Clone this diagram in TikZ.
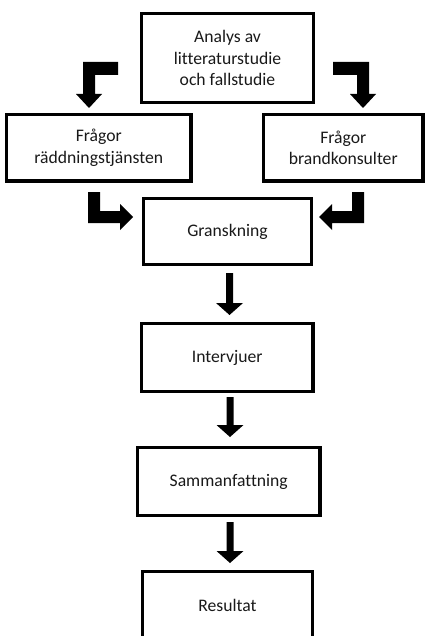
\documentclass[tikz,border=0pt]{standalone}
\usepackage{fontspec}
\setmainfont[Ligatures=CommonOff,Contextuals=AlternateOff]{Carlito}
\begin{document}
\begin{tikzpicture}[x=1bp,y=-1bp,
  box/.style={draw=black, line width=3.2bp, rectangle, inner sep=0pt, align=center,
    font=\fontsize{17.7}{21.5}\selectfont, text=black!90},
  blockarrow/.style={fill=black}]
\useasboundingbox (0,0) rectangle (425,636);
\node[box, minimum width=172bp, minimum height=89bp] (a) at (227.5,58) {Analys av\\litteraturstudie\\och fallstudie};
\node[box, minimum width=184.5bp, minimum height=66.5bp] (b) at (98.75,147.75) {Frågor\\räddningstjänsten};
\node[box, minimum width=159.5bp, minimum height=66.5bp] (c) at (343.25,147.75) {Frågor\\brandkonsulter};
\node[box, minimum width=168bp, minimum height=66bp] (d) at (227.5,231.5) {Granskning};
\node[box, minimum width=171.5bp, minimum height=68bp] (e) at (227.25,357.5) {Intervjuer};
\node[box, minimum width=182.5bp, minimum height=68bp] (f) at (228.75,481.5) {Sammanfattning};
\node[box, minimum width=170bp, minimum height=67.5bp] (g) at (227.5,605.25) {Resultat};
% elbow arrows from a to b and c
\fill[blockarrow] (118,62) -- (83,62) -- (83,94) -- (76,94) -- (89,108) -- (102,94) -- (95,94) -- (95,75) -- (118,75) -- cycle;
\fill[blockarrow] (333,62) -- (369,62) -- (369,94) -- (376,94) -- (363,108) -- (350,94) -- (357,94) -- (357,75) -- (333,75) -- cycle;
% elbow arrows from b and c to d
\fill[blockarrow] (88,192) -- (100,192) -- (100,211) -- (120,211) -- (120,204) -- (133,217) -- (120,230) -- (120,223) -- (88,223) -- cycle;
\fill[blockarrow] (364,192) -- (352,192) -- (352,211) -- (332,211) -- (332,204) -- (319,217) -- (332,230) -- (332,223) -- (364,223) -- cycle;
% vertical arrows
\fill[blockarrow] (226,273) -- (233,273) -- (233,303) -- (243,303) -- (229.5,315) -- (216,303) -- (226,303) -- cycle;
\fill[blockarrow] (226.5,397) -- (233.5,397) -- (233.5,425) -- (243.5,425) -- (230,437) -- (216.5,425) -- (226.5,425) -- cycle;
\fill[blockarrow] (226.5,522) -- (233.5,522) -- (233.5,551) -- (243.5,551) -- (230,563) -- (216.5,551) -- (226.5,551) -- cycle;
\end{tikzpicture}
\end{document}
